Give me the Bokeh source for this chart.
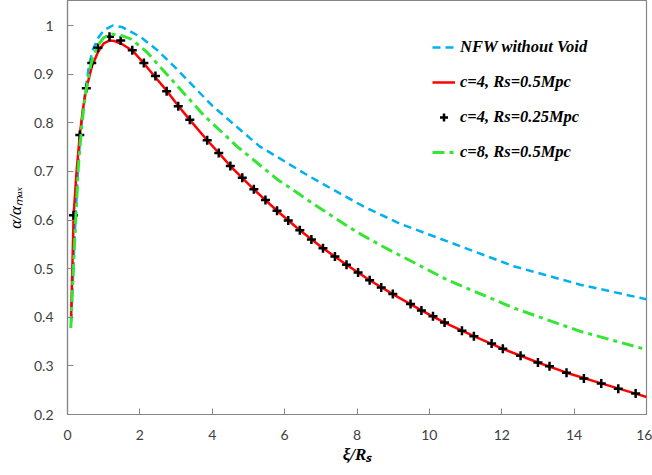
from bokeh.plotting import figure
from bokeh.models import Range1d, FixedTicker, Legend, LegendItem
from bokeh.embed import file_html
from bokeh.resources import INLINE

# ---- data ----
nfw_x = [0.1, 0.2, 0.3, 0.4, 0.5, 0.6, 0.7, 0.85, 1.0, 1.25, 1.5, 2.03, 2.5, 2.96, 4.0, 5.3, 6.7, 8.2, 9.2, 10.5, 12.33, 14.17, 16.0]
nfw_y = [0.39, 0.57, 0.72, 0.81, 0.87, 0.92, 0.95, 0.975, 0.99, 1.0, 0.997, 0.976, 0.948, 0.915, 0.835, 0.752, 0.689, 0.627, 0.592, 0.556, 0.505, 0.467, 0.437]

red_x = [0.1, 0.17, 0.25, 0.34, 0.43, 0.52, 0.67, 0.84, 1.0, 1.16, 1.3, 1.5, 1.8, 2.1, 2.4, 2.75, 3.07, 3.38, 3.86, 4.18, 4.5, 5.15, 5.79, 6.42, 7.06, 7.71, 8.35, 9.0, 9.78, 10.42, 11.23, 12.03, 13.0, 13.79, 14.75, 15.7, 16.0]
red_y = [0.40, 0.61, 0.70, 0.775, 0.83, 0.87, 0.915, 0.945, 0.963, 0.969, 0.968, 0.962, 0.948, 0.923, 0.896, 0.865, 0.834, 0.806, 0.764, 0.738, 0.711, 0.663, 0.619, 0.579, 0.542, 0.508, 0.476, 0.447, 0.414, 0.389, 0.361, 0.335, 0.307, 0.286, 0.264, 0.243, 0.236]

pts_x = [0.166, 0.34, 0.52, 0.67, 0.84, 1.16, 1.47, 1.79, 2.11, 2.43, 2.74, 3.06, 3.38, 3.86, 4.18, 4.5, 4.83, 5.15, 5.47, 5.79, 6.1, 6.42, 6.74, 7.06, 7.39, 7.71, 8.03, 8.35, 8.67, 8.99, 9.48, 9.78, 10.1, 10.42, 10.9, 11.23, 11.72, 12.03, 12.52, 13.0, 13.32, 13.79, 14.27, 14.75, 15.22, 15.7]
pts_y = [0.61, 0.775, 0.871, 0.923, 0.954, 0.977, 0.969, 0.949, 0.923, 0.896, 0.865, 0.834, 0.806, 0.764, 0.738, 0.711, 0.687, 0.663, 0.641, 0.619, 0.599, 0.579, 0.560, 0.542, 0.525, 0.508, 0.492, 0.476, 0.461, 0.448, 0.427, 0.414, 0.402, 0.389, 0.372, 0.361, 0.346, 0.335, 0.321, 0.307, 0.299, 0.286, 0.274, 0.264, 0.253, 0.243]

c8_x = [0.09, 0.2, 0.3, 0.4, 0.5, 0.6, 0.7, 0.85, 1.0, 1.25, 1.5, 1.76, 2.2, 2.68, 3.77, 4.69, 5.79, 6.98, 8.0, 8.65, 10.49, 12.33, 14.17, 15.83, 16.0]
c8_y = [0.378, 0.56, 0.71, 0.80, 0.86, 0.905, 0.935, 0.96, 0.975, 0.982, 0.979, 0.972, 0.945, 0.905, 0.815, 0.751, 0.684, 0.624, 0.575, 0.548, 0.477, 0.419, 0.371, 0.337, 0.333]

x_ticks = [0, 2, 4, 6, 8, 10, 12, 14, 16]
y_ticks = [0.2, 0.3, 0.4, 0.5, 0.6, 0.7, 0.8, 0.9, 1.0]
y_tick_labels = ["0.2", "0.3", "0.4", "0.5", "0.6", "0.7", "0.8", "0.9", "1"]

x_title = "ξ/Rₛ"
y_title = "α/αₘₐₓ"
legend_labels = ["NFW without Void", "c=4, Rs=0.5Mpc", "c=4, Rs=0.25Mpc", "c=8, Rs=0.5Mpc"]

# ---- figure ----
FL, FR, FT, FB = 67, 646, 0, 414
W, H = 652, 475
x0, x1 = 0.0, 16.0
y0 = 0.2
ppu_y = (FB - 25) / 0.8
y1 = 1.0 + 25 / ppu_y

p = figure(width=W, height=H, output_backend="svg", toolbar_location=None,
           x_range=Range1d(x0, x1), y_range=Range1d(y0, y1),
           min_border_left=FL, min_border_right=W - FR, min_border_top=FT,
           min_border_bottom=H - FB)
p.background_fill_color = "white"
p.border_fill_color = "white"
p.outline_line_color = "#868686"
p.outline_line_width = 1.2
p.xgrid.visible = False
p.ygrid.visible = False

GREY = "#868686"
TICK_FONT = "Lato"
SERIF = "Liberation Serif"
for ax in (p.xaxis[0], p.yaxis[0]):
    ax.axis_line_color = GREY
    ax.axis_line_width = 1.2
    ax.major_tick_line_color = GREY
    ax.major_tick_in = 6
    ax.major_tick_out = 0
    ax.minor_tick_line_color = None
    ax.major_label_text_font = TICK_FONT
    ax.major_label_text_font_size = "14px"
    ax.major_label_text_color = "#404040"
    ax.axis_label_text_font = SERIF
    ax.axis_label_text_font_size = "17px"
    ax.axis_label_text_color = "black"

p.xaxis.ticker = FixedTicker(ticks=x_ticks)
p.xaxis.major_label_standoff = 15
p.xaxis.axis_label = x_title
p.xaxis.axis_label_text_font_style = "bold italic"
p.xaxis.axis_label_standoff = 2

p.yaxis.ticker = FixedTicker(ticks=y_ticks)
p.yaxis.major_label_overrides = {t: s for t, s in zip(y_ticks, y_tick_labels)}
p.yaxis.major_label_standoff = 14
p.yaxis.axis_label = y_title
p.yaxis.axis_label_text_font_style = "italic"
p.yaxis.axis_label_standoff = 6

r_nfw = p.line(nfw_x, nfw_y, line_color="#00B0F0", line_width=2.5, line_dash="8 5")
r_red = p.line(red_x, red_y, line_color="#FF0000", line_width=2.5)
r_pts = p.scatter(pts_x, pts_y, marker="cross", size=9, line_color="black", line_width=2.5)
r_c8 = p.line(c8_x, c8_y, line_color="#33E633", line_width=3, line_dash="12 5 4 5")

legend = Legend(items=[LegendItem(label=legend_labels[0], renderers=[r_nfw]),
                       LegendItem(label=legend_labels[1], renderers=[r_red]),
                       LegendItem(label=legend_labels[2], renderers=[r_pts]),
                       LegendItem(label=legend_labels[3], renderers=[r_c8])],
                location=(355, 242))
legend.margin = 0
legend.padding = 10
legend.spacing = 15
legend.glyph_width = 23
legend.glyph_height = 20
legend.label_height = 20
legend.label_standoff = 5
legend.border_line_alpha = 0
legend.background_fill_alpha = 0
legend.label_text_font = SERIF
legend.label_text_font_style = "bold italic"
legend.label_text_font_size = "16.5px"
legend.label_text_color = "black"
p.add_layout(legend)

open("out.html", "w").write(file_html(p, INLINE))
